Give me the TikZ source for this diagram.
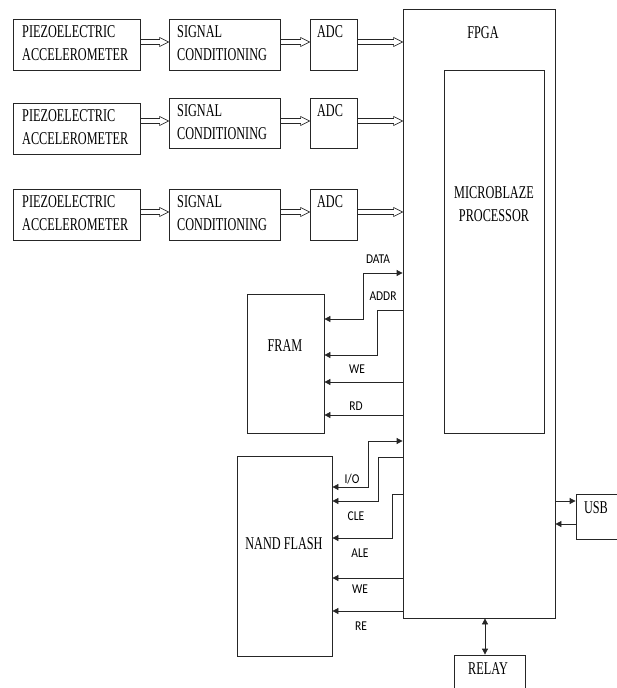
\documentclass[tikz,border=0pt]{standalone}
\usepackage{fontspec}
\usepackage{graphicx}
\setmainfont{Liberation Serif}
\newfontfamily\lblfont{Carlito}
\usetikzlibrary{arrows.meta,calc}
\newcommand\txl[1]{\scalebox{0.68}[1]{\begin{tabular}{@{}l@{}}#1\end{tabular}}}
\newcommand\txc[1]{\scalebox{0.68}[1]{\begin{tabular}{@{}c@{}}#1\end{tabular}}}
\newcommand\lbx[1]{\scalebox{0.85}[1]{#1}}
\begin{document}
\begin{tikzpicture}[x=1pt,y=-1pt,
  box/.style={draw=black!85,line width=0.8pt,rectangle,inner sep=0pt},
  lbl/.style={font=\lblfont\fontsize{13.5}{15}\selectfont,inner sep=0pt},
  txt/.style={font=\fontsize{18}{23}\selectfont,inner sep=0pt},
  sig/.style={draw=black!85,line width=0.8pt},
  tip/.style={-{Triangle[length=6pt,width=6pt]}},
  tips/.style={{Triangle[length=6pt,width=6pt]}-{Triangle[length=6pt,width=6pt]}},
  hol/.style={draw=black!85,line width=0.7pt,fill=white,to path={
    let \p1=(\tikztostart), \p2=(\tikztotarget) in
    (\x1,\y1+2.5pt) -- (\x2-9pt,\y1+2.5pt) -- (\x2-9pt,\y1+4.5pt) -- (\x2,\y1)
    -- (\x2-9pt,\y1-4.5pt) -- (\x2-9pt,\y1-2.5pt) -- (\x1,\y1-2.5pt) -- cycle}}
]
\useasboundingbox (0,0) rectangle (617,688);
\clip (0,0) rectangle (617,688);

% row boxes
\node[box,minimum width=127,minimum height=51] (p1) at (76.5,44.5) {};
\node[txt,anchor=west] (p1t) at (22,44.5) {\txl{PIEZOELECTRIC\\ACCELEROMETER}};
\node[box,minimum width=111,minimum height=51] (s1) at (224.5,44.5) {};
\node[txt,anchor=west] (s1t) at (177,44.5) {\txl{SIGNAL\\CONDITIONING}};
\node[box,minimum width=47,minimum height=51] (a1) at (333.5,44.5) {};
\node[txt] (a1t) at (330,33) {\txl{ADC}};

\node[box,minimum width=127,minimum height=51] (p2) at (76.5,128.5) {};
\node[txt,anchor=west] (p2t) at (22,128.5) {\txl{PIEZOELECTRIC\\ACCELEROMETER}};
\node[box,minimum width=111,minimum height=50] (s2) at (224.5,123) {};
\node[txt,anchor=west] (s2t) at (177,123) {\txl{SIGNAL\\CONDITIONING}};
\node[box,minimum width=47,minimum height=50] (a2) at (333.5,123) {};
\node[txt] (a2t) at (330,112) {\txl{ADC}};

\node[box,minimum width=127,minimum height=51] (p3) at (76.5,214.5) {};
\node[txt,anchor=west] (p3t) at (22,214.5) {\txl{PIEZOELECTRIC\\ACCELEROMETER}};
\node[box,minimum width=111,minimum height=51] (s3) at (224.5,214.5) {};
\node[txt,anchor=west] (s3t) at (177,214.5) {\txl{SIGNAL\\CONDITIONING}};
\node[box,minimum width=47,minimum height=51] (a3) at (333.5,214.5) {};
\node[txt] (a3t) at (330,203) {\txl{ADC}};

% FPGA
\node[box,minimum width=152,minimum height=609] (fpga) at (479,313.5) {};
\node[txt] (fpgal) at (483,34) {\txc{FPGA}};
\node[box,minimum width=100,minimum height=363] (mb) at (494,251.5) {};
\node[txt] (mbl) at (494,205) {\txc{MICROBLAZE\\PROCESSOR}};

% memories
\node[box,minimum width=77,minimum height=139] (fram) at (285.5,363.5) {};
\node[txt] (framl) at (285,347) {\txc{FRAM}};
\node[box,minimum width=95,minimum height=200] (nand) at (284.5,556) {};
\node[txt] (nandl) at (284,545) {\txc{NAND FLASH}};

% USB / relay
\node[box,minimum width=60,minimum height=45] (usb) at (606,516.5) {};
\node[txt] (usbl) at (596,509) {\txc{USB}};
\node[box,minimum width=71,minimum height=50] (relay) at (489.5,680) {};
\node[txt] (relayl) at (488,670) {\txc{RELAY}};

% hollow arrows
\path[hol] (p1.east |- 0,42) to (s1.west |- 0,42);
\path[hol] (s1.east |- 0,42) to (a1.west |- 0,42);
\path[hol] (a1.east |- 0,42) to (fpga.west |- 0,42);
\path[hol] (p2.east |- 0,121) to (s2.west |- 0,121);
\path[hol] (s2.east |- 0,121) to (a2.west |- 0,121);
\path[hol] (a2.east |- 0,121) to (fpga.west |- 0,121);
\path[hol] (p3.east |- 0,212) to (s3.west |- 0,212);
\path[hol] (s3.east |- 0,212) to (a3.west |- 0,212);
\path[hol] (a3.east |- 0,212) to (fpga.west |- 0,212);

% FRAM signals
\draw[sig,tips] (fram.east |- 0,319) -- (363,319) -- (363,273) -- (fpga.west |- 0,273);
\draw[sig,tip] (fpga.west |- 0,310) -- (377,310) -- (377,355) -- (fram.east |- 0,355);
\draw[sig,tip] (fpga.west |- 0,382) -- (fram.east |- 0,382);
\draw[sig,tip] (fpga.west |- 0,415) -- (fram.east |- 0,415);
\node[lbl] (ldata) at (378,259) {\lbx{DATA}};
\node[lbl] (laddr) at (383,296) {\lbx{ADDR}};
\node[lbl] (lwe1) at (357,369) {\lbx{WE}};
\node[lbl] (lrd) at (356,406) {\lbx{RD}};

% NAND signals
\draw[sig,tips] (nand.east |- 0,487) -- (368,487) -- (368,441) -- (fpga.west |- 0,441);
\draw[sig,tip] (fpga.west |- 0,457) -- (378,457) -- (378,501) -- (nand.east |- 0,501);
\draw[sig,tip] (fpga.west |- 0,494) -- (392,494) -- (392,538) -- (nand.east |- 0,538);
\draw[sig,tip] (fpga.west |- 0,578) -- (nand.east |- 0,578);
\draw[sig,tip] (fpga.west |- 0,611) -- (nand.east |- 0,611);
\node[lbl] (lio) at (352,479) {\lbx{I/O}};
\node[lbl] (lcle) at (356,516) {\lbx{CLE}};
\node[lbl] (lale) at (360,553) {\lbx{ALE}};
\node[lbl] (lwe2) at (360,589) {\lbx{WE}};
\node[lbl] (lre) at (361,626) {\lbx{RE}};

% USB and relay
\draw[sig,tip] (fpga.east |- 0,501) -- (usb.west |- 0,501);
\draw[sig,tip] (usb.west |- 0,524) -- (fpga.east |- 0,524);
\draw[sig,tips] (fpga.south -| 485,0) -- (relay.north -| 485,0);
\end{tikzpicture}
\end{document}
